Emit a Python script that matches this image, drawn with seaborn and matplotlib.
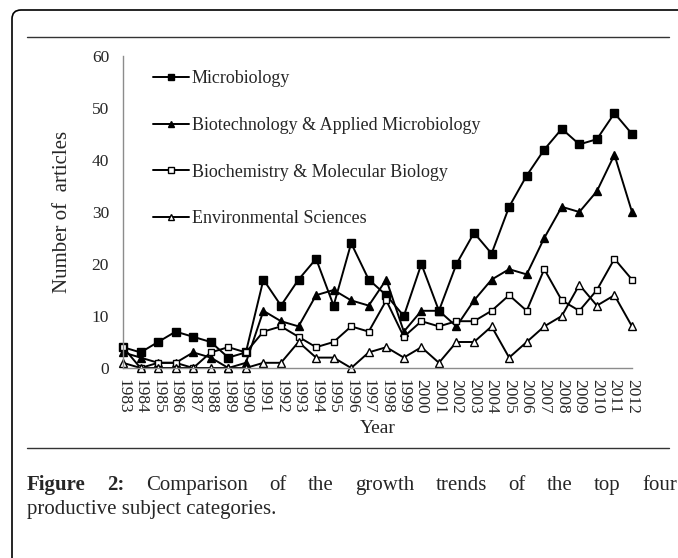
import matplotlib
matplotlib.use("Agg")
import matplotlib.pyplot as plt
import seaborn as sns
import pandas as pd
from matplotlib.patches import FancyBboxPatch
from matplotlib.lines import Line2D
from matplotlib.transforms import IdentityTransform

years = list(range(1983, 2013))
microbiology = [4, 3, 5, 7, 6, 5, 2, 3, 17, 12, 17, 21, 12, 24, 17,
                14, 10, 20, 11, 20, 26, 22, 31, 37, 42, 46, 43, 44, 49, 45]
biotechnology = [3, 2, 1, 1, 3, 2, 0, 1, 11, 9, 8, 14, 15, 13, 12,
                 17, 7, 11, 11, 8, 13, 17, 19, 18, 25, 31, 30, 34, 41, 30]
biochemistry = [4, 0, 1, 1, 0, 3, 4, 3, 7, 8, 6, 4, 5, 8, 7,
                13, 6, 9, 8, 9, 9, 11, 14, 11, 19, 13, 11, 15, 21, 17]
environmental = [1, 0, 0, 0, 0, 0, 0, 0, 1, 1, 5, 2, 2, 0, 3,
                 4, 2, 4, 1, 5, 5, 8, 2, 5, 8, 10, 16, 12, 14, 8]

series = [
    ("Microbiology", microbiology, "s", "black", 5.2),
    ("Biotechnology & Applied Microbiology", biotechnology, "^", "black", 5.2),
    ("Biochemistry & Molecular Biology", biochemistry, "s", "white", 5.0),
    ("Environmental Sciences", environmental, "^", "white", 5.2),
]

sns.set_style("white")
plt.rcParams["font.family"] = ["Liberation Serif", "DejaVu Serif"]

W, H = 678, 558
fig = plt.figure(figsize=(W / 100, H / 100), dpi=100)
ax = fig.add_axes([123 / W, 1 - 368 / H, (632 - 123) / W, (368 - 56) / H])

for name, vals, marker, face, ms in series:
    df = pd.DataFrame({"Year": years, "Count": vals})
    sns.lineplot(data=df, x="Year", y="Count", ax=ax, color="black", lw=1.4,
                 marker=marker, markersize=ms, markerfacecolor=face,
                 markeredgecolor="black", markeredgewidth=1.0,
                 label=name, clip_on=False)

ax.set_xlim(1983, 2012)
ax.set_ylim(0, 60)
ax.set_yticks(range(0, 61, 10))
ax.set_xticks(years)
ax.set_xticklabels([str(y) for y in years], rotation=-90, fontsize=12.5)
ax.tick_params(axis="y", labelsize=12.5, direction="in", length=5,
               color="#8c8c8c", pad=10)
ax.tick_params(axis="x", direction="in", length=5, color="#8c8c8c", pad=8)
for side in ["top", "right"]:
    ax.spines[side].set_visible(False)
for side in ["left", "bottom"]:
    ax.spines[side].set_color("#8c8c8c")
    ax.spines[side].set_linewidth(1.0)

ax.set_xlabel("Year", fontsize=14, labelpad=4)
ax.set_ylabel("Number of  articles", fontsize=15, labelpad=14)

leg = ax.legend(loc="upper left", bbox_to_anchor=(0.045, 0.978), frameon=False,
                fontsize=13, handlelength=2.0, handletextpad=0.15,
                labelspacing=1.65, borderaxespad=0, markerscale=0.8)

# page frame and rules
frame = FancyBboxPatch((12, -30), 720, H - 10 + 30,
                       boxstyle="round,pad=0,rounding_size=9",
                       transform=IdentityTransform(), fill=False,
                       edgecolor="black", linewidth=1.2)
fig.add_artist(frame)
for yy in [37, 448]:
    fig.add_artist(Line2D([27 / W, 669 / W], [1 - yy / H, 1 - yy / H],
                          transform=fig.transFigure, color="#333333", lw=1.0))

# justified caption
cap_size = 15
line1 = ["Figure", "2:", "Comparison", "of", "the", "growth", "trends",
         "of", "the", "top", "four"]
fig.canvas.draw()
r = fig.canvas.get_renderer()
texts = []
for i, w in enumerate(line1):
    t = fig.text(0, 1 - 490 / H, w, fontsize=cap_size, va="baseline",
                 fontweight="bold" if i < 2 else "normal")
    texts.append(t)
widths = [t.get_window_extent(r).width for t in texts]
x0, x1 = 27, 677
gap = (x1 - x0 - sum(widths)) / (len(texts) - 1)
x = x0
for t, w in zip(texts, widths):
    t.set_x(x / W)
    x += w + gap
fig.text(27 / W, 1 - 514 / H, "productive subject categories.",
         fontsize=cap_size, va="baseline")

fig.savefig("out.png", dpi=100)
